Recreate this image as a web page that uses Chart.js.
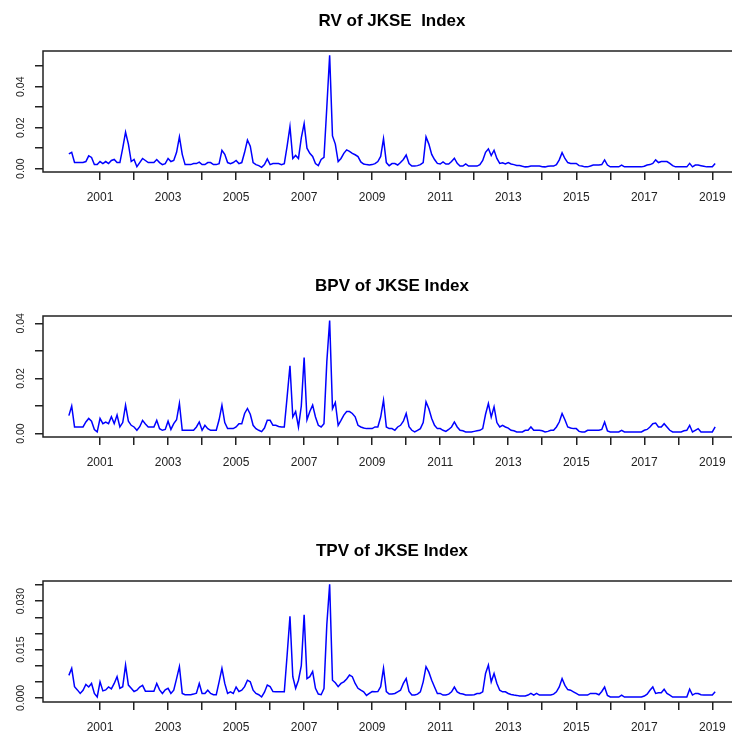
<!DOCTYPE html>
<html>
<head>
<meta charset="utf-8">
<script src="https://cdn.jsdelivr.net/npm/chart.js@4.4.1/dist/chart.umd.min.js"></script>
<style>
  html, body { margin: 0; padding: 0; background: #fff; overflow: hidden; }
  #wrap { width: 732px; height: 732px; overflow: hidden; position: relative; }
  .panel { position: absolute; left: 0; }
  canvas { display: block; }
</style>
</head>
<body>
<div id="wrap">
<div class="panel" style="top:0px"><canvas id="rvChart" width="741" height="212"></canvas></div>
<div class="panel" style="top:265px"><canvas id="bpvChart" width="741" height="212"></canvas></div>
<div class="panel" style="top:530px"><canvas id="tpvChart" width="741" height="212"></canvas></div>
</div>
<script>
// monthly series, Feb 2000 .. Feb 2019
var startYear = 2000;
var startMonth = 2;

var rv = [
  0.0072, 0.0080, 0.0030, 0.0030, 0.0030, 0.0030, 0.0035, 0.0063, 0.0055, 0.0020, 0.0020,
  0.0035, 0.0025, 0.0035, 0.0025, 0.0040, 0.0045, 0.0030, 0.0030, 0.0100, 0.0178, 0.0120, 0.0035,
  0.0045, 0.0010, 0.0030, 0.0050, 0.0040, 0.0030, 0.0030, 0.0030, 0.0045, 0.0030, 0.0020, 0.0025,
  0.0050, 0.0035, 0.0040, 0.0080, 0.0155, 0.0070, 0.0020, 0.0020, 0.0020, 0.0025, 0.0025, 0.0032,
  0.0020, 0.0020, 0.0030, 0.0030, 0.0020, 0.0020, 0.0025, 0.0090, 0.0070, 0.0030, 0.0025, 0.0030,
  0.0040, 0.0025, 0.0030, 0.0080, 0.0140, 0.0110, 0.0030, 0.0020, 0.0015, 0.0007, 0.0020, 0.0048,
  0.0020, 0.0025, 0.0025, 0.0025, 0.0020, 0.0025, 0.0110, 0.0205, 0.0050, 0.0065, 0.0050, 0.0150,
  0.0220, 0.0100, 0.0075, 0.0060, 0.0025, 0.0015, 0.0045, 0.0055, 0.0300, 0.0553, 0.0160, 0.0120,
  0.0035, 0.0050, 0.0075, 0.0092, 0.0085, 0.0075, 0.0068, 0.0059, 0.0033, 0.0023, 0.0020, 0.0018,
  0.0020, 0.0025, 0.0035, 0.0060, 0.0146, 0.0030, 0.0015, 0.0025, 0.0025, 0.0018, 0.0030, 0.0045,
  0.0067, 0.0025, 0.0013, 0.0013, 0.0015, 0.0020, 0.0030, 0.0155, 0.0120, 0.0070, 0.0045, 0.0026,
  0.0023, 0.0033, 0.0023, 0.0023, 0.0035, 0.0051, 0.0026, 0.0013, 0.0013, 0.0023, 0.0013, 0.0013,
  0.0013, 0.0013, 0.0020, 0.0040, 0.0080, 0.0097, 0.0064, 0.0090, 0.0050, 0.0026, 0.0029, 0.0023,
  0.0030, 0.0023, 0.0020, 0.0016, 0.0016, 0.0012, 0.0009, 0.0010, 0.0013, 0.0013, 0.0013, 0.0013,
  0.0010, 0.0009, 0.0012, 0.0013, 0.0013, 0.0020, 0.0043, 0.0078, 0.0050, 0.0030, 0.0026, 0.0026,
  0.0026, 0.0015, 0.0013, 0.0009, 0.0009, 0.0013, 0.0018, 0.0018, 0.0018, 0.0020, 0.0043, 0.0018,
  0.0009, 0.0009, 0.0009, 0.0009, 0.0018, 0.0009, 0.0009, 0.0009, 0.0009, 0.0009, 0.0009, 0.0009,
  0.0012, 0.0018, 0.0020, 0.0026, 0.0043, 0.0030, 0.0035, 0.0035, 0.0035, 0.0026, 0.0015, 0.0009,
  0.0009, 0.0009, 0.0009, 0.0009, 0.0026, 0.0009, 0.0018, 0.0018, 0.0015, 0.0012, 0.0009, 0.0009,
  0.0010, 0.0026
];

var bpv = [
  0.0065, 0.0100, 0.0024, 0.0024, 0.0024, 0.0024, 0.0042, 0.0055, 0.0045, 0.0015, 0.0006,
  0.0055, 0.0036, 0.0042, 0.0036, 0.0061, 0.0036, 0.0067, 0.0024, 0.0040, 0.0103, 0.0045, 0.0030,
  0.0024, 0.0012, 0.0025, 0.0048, 0.0035, 0.0024, 0.0024, 0.0024, 0.0048, 0.0018, 0.0012, 0.0015,
  0.0045, 0.0015, 0.0036, 0.0050, 0.0109, 0.0012, 0.0012, 0.0012, 0.0012, 0.0012, 0.0024, 0.0042,
  0.0012, 0.0030, 0.0018, 0.0012, 0.0012, 0.0012, 0.0050, 0.0103, 0.0040, 0.0018, 0.0018, 0.0018,
  0.0024, 0.0036, 0.0036, 0.0073, 0.0091, 0.0070, 0.0030, 0.0018, 0.0012, 0.0007, 0.0020, 0.0048,
  0.0048, 0.0030, 0.0030, 0.0026, 0.0024, 0.0024, 0.0133, 0.0246, 0.0060, 0.0080, 0.0024, 0.0100,
  0.0276, 0.0050, 0.0080, 0.0103, 0.0060, 0.0030, 0.0024, 0.0036, 0.0260, 0.0410, 0.0090, 0.0113,
  0.0030, 0.0048, 0.0067, 0.0080, 0.0080, 0.0073, 0.0061, 0.0030, 0.0024, 0.0020, 0.0018, 0.0018,
  0.0018, 0.0024, 0.0024, 0.0060, 0.0121, 0.0024, 0.0018, 0.0018, 0.0012, 0.0024, 0.0030, 0.0045,
  0.0073, 0.0025, 0.0012, 0.0006, 0.0012, 0.0018, 0.0040, 0.0115, 0.0090, 0.0055, 0.0030, 0.0018,
  0.0018, 0.0012, 0.0008, 0.0015, 0.0024, 0.0042, 0.0024, 0.0012, 0.0010, 0.0006, 0.0006, 0.0006,
  0.0008, 0.0010, 0.0012, 0.0018, 0.0070, 0.0109, 0.0060, 0.0097, 0.0040, 0.0024, 0.0030, 0.0024,
  0.0020, 0.0012, 0.0010, 0.0006, 0.0006, 0.0006, 0.0012, 0.0012, 0.0024, 0.0012, 0.0012, 0.0012,
  0.0010, 0.0006, 0.0008, 0.0012, 0.0012, 0.0024, 0.0042, 0.0073, 0.0050, 0.0024, 0.0020, 0.0018,
  0.0018, 0.0008, 0.0006, 0.0006, 0.0012, 0.0012, 0.0012, 0.0012, 0.0012, 0.0015, 0.0042, 0.0010,
  0.0006, 0.0006, 0.0006, 0.0006, 0.0012, 0.0006, 0.0006, 0.0006, 0.0006, 0.0006, 0.0006, 0.0006,
  0.0012, 0.0015, 0.0024, 0.0036, 0.0038, 0.0024, 0.0024, 0.0036, 0.0024, 0.0012, 0.0006, 0.0006,
  0.0006, 0.0006, 0.0010, 0.0012, 0.0030, 0.0006, 0.0012, 0.0018, 0.0006, 0.0006, 0.0006, 0.0006,
  0.0006, 0.0024
];

var tpv = [
  0.0070, 0.0092, 0.0035, 0.0025, 0.0014, 0.0024, 0.0042, 0.0034, 0.0045, 0.0014, 0.0003,
  0.0050, 0.0022, 0.0025, 0.0034, 0.0028, 0.0045, 0.0066, 0.0030, 0.0035, 0.0102, 0.0040, 0.0030,
  0.0020, 0.0024, 0.0034, 0.0039, 0.0021, 0.0021, 0.0021, 0.0021, 0.0045, 0.0025, 0.0014, 0.0025,
  0.0030, 0.0014, 0.0024, 0.0060, 0.0097, 0.0014, 0.0010, 0.0010, 0.0010, 0.0012, 0.0015, 0.0045,
  0.0014, 0.0014, 0.0024, 0.0014, 0.0010, 0.0010, 0.0050, 0.0092, 0.0045, 0.0014, 0.0019, 0.0014,
  0.0034, 0.0020, 0.0024, 0.0035, 0.0055, 0.0050, 0.0024, 0.0014, 0.0010, 0.0003, 0.0018, 0.0040,
  0.0035, 0.0020, 0.0019, 0.0019, 0.0019, 0.0019, 0.0133, 0.0253, 0.0066, 0.0030, 0.0055, 0.0100,
  0.0258, 0.0060, 0.0066, 0.0082, 0.0030, 0.0012, 0.0010, 0.0029, 0.0227, 0.0352, 0.0055, 0.0047,
  0.0035, 0.0045, 0.0050, 0.0059, 0.0071, 0.0066, 0.0045, 0.0030, 0.0024, 0.0019, 0.0008, 0.0014,
  0.0020, 0.0019, 0.0020, 0.0035, 0.0092, 0.0020, 0.0012, 0.0012, 0.0014, 0.0019, 0.0024, 0.0045,
  0.0060, 0.0020, 0.0009, 0.0009, 0.0012, 0.0019, 0.0050, 0.0097, 0.0080, 0.0055, 0.0034, 0.0014,
  0.0014, 0.0009, 0.0009, 0.0012, 0.0019, 0.0034, 0.0019, 0.0014, 0.0012, 0.0009, 0.0009, 0.0009,
  0.0010, 0.0014, 0.0014, 0.0019, 0.0076, 0.0102, 0.0050, 0.0076, 0.0045, 0.0024, 0.0019, 0.0019,
  0.0014, 0.0011, 0.0009, 0.0008, 0.0006, 0.0006, 0.0006, 0.0009, 0.0014, 0.0009, 0.0014, 0.0009,
  0.0009, 0.0009, 0.0009, 0.0009, 0.0012, 0.0019, 0.0034, 0.0060, 0.0039, 0.0026, 0.0024, 0.0019,
  0.0014, 0.0009, 0.0009, 0.0009, 0.0009, 0.0014, 0.0014, 0.0014, 0.0010, 0.0020, 0.0034, 0.0008,
  0.0003, 0.0003, 0.0003, 0.0003, 0.0009, 0.0003, 0.0003, 0.0003, 0.0003, 0.0003, 0.0003, 0.0003,
  0.0006, 0.0012, 0.0024, 0.0034, 0.0014, 0.0016, 0.0016, 0.0027, 0.0014, 0.0009, 0.0003, 0.0003,
  0.0003, 0.0003, 0.0003, 0.0003, 0.0027, 0.0009, 0.0014, 0.0014, 0.0010, 0.0009, 0.0009, 0.0009,
  0.0009, 0.0019
];

// x axis: a tick every year, label on odd years
var yearTicks = [2001, 2002, 2003, 2004, 2005, 2006, 2007, 2008, 2009, 2010,
                 2011, 2012, 2013, 2014, 2015, 2016, 2017, 2018, 2019];
var yearLabels = ['2001', '', '2003', '', '2005', '', '2007', '', '2009', '',
                  '2011', '', '2013', '', '2015', '', '2017', '', '2019'];

// y axis ticks
var rvTicks = [0, 0.01, 0.02, 0.03, 0.04, 0.05];
var rvLabels = ['0.00', '', '0.02', '', '0.04', ''];
var bpvTicks = [0, 0.01, 0.02, 0.03, 0.04];
var bpvLabels = ['0.00', '', '0.02', '', '0.04'];
var tpvTicks = [0, 0.005, 0.010, 0.015, 0.020, 0.025, 0.030, 0.035];
var tpvLabels = ['0.000', '', '', '0.015', '', '', '0.030', ''];

var FONT = "'Liberation Sans', Arial, sans-serif";
var INK = '#222';

// box round the plot (R style)
var frame = {
  id: 'frame',
  afterDraw: function (chart) {
    var a = chart.chartArea, c = chart.ctx;
    c.save();
    c.strokeStyle = INK;
    c.lineWidth = 1.5;
    c.strokeRect(a.left, a.top, a.right - a.left, a.bottom - a.top);
    c.restore();
  }
};

function makePanel(id, title, values, yTicks, yLabels, yMin, yMax, labelPad) {
  var pts = values.map(function (v, i) {
    return { x: startYear + (startMonth - 1 + i) / 12, y: v };
  });
  return new Chart(document.getElementById(id), {
    type: 'line',
    data: {
      datasets: [{
        data: pts,
        borderColor: '#0000ff',
        borderWidth: 1.5,
        pointRadius: 0,
        tension: 0,
        fill: false
      }]
    },
    options: {
      responsive: false,
      animation: false,
      devicePixelRatio: 1,
      layout: { padding: 0 },
      plugins: {
        legend: { display: false },
        tooltip: { enabled: false },
        title: {
          display: true,
          text: title,
          fullSize: false,
          color: '#000',
          font: { family: FONT, size: 17, weight: 'bold' },
          padding: { top: 11.5, bottom: 19.1 }
        }
      },
      scales: {
        x: {
          type: 'linear',
          bounds: 'data',
          min: 1999.323,
          max: 2019.843,
          afterBuildTicks: function (s) {
            s.ticks = yearTicks.map(function (v) { return { value: v }; });
          },
          afterFit: function (s) { s.height = 40; },
          grid: { drawOnChartArea: false, drawTicks: true, tickLength: 8, color: INK, lineWidth: 1.5 },
          border: { display: false },
          ticks: {
            autoSkip: false,
            maxRotation: 0,
            padding: 10,
            color: INK,
            font: { family: FONT, size: 12 },
            callback: function (v, i) { return yearLabels[i]; }
          }
        },
        y: {
          type: 'linear',
          bounds: 'data',
          min: yMin,
          max: yMax,
          afterBuildTicks: function (s) {
            s.ticks = yTicks.map(function (v) { return { value: v }; });
          },
          afterFit: function (s) { s.width = 43; },
          grid: { drawOnChartArea: false, drawTicks: true, tickLength: 8, color: INK, lineWidth: 1.5 },
          border: { display: false },
          ticks: {
            autoSkip: false,
            minRotation: 90,
            maxRotation: 90,
            crossAlign: 'center',
            padding: labelPad,
            color: INK,
            font: { family: FONT, size: 10.5 },
            callback: function (v, i) { return yLabels[i]; }
          }
        }
      }
    },
    plugins: [frame]
  });
}

makePanel('rvChart', 'RV of JKSE  Index', rv, rvTicks, rvLabels, -0.0016, 0.0574, 3.8);
makePanel('bpvChart', 'BPV of JKSE Index', bpv, bpvTicks, bpvLabels, -0.00124, 0.04265, 3.8);
makePanel('tpvChart', 'TPV of JKSE Index', tpv, tpvTicks, tpvLabels, -0.00125, 0.03625, 0.9);
</script>
</body>
</html>
